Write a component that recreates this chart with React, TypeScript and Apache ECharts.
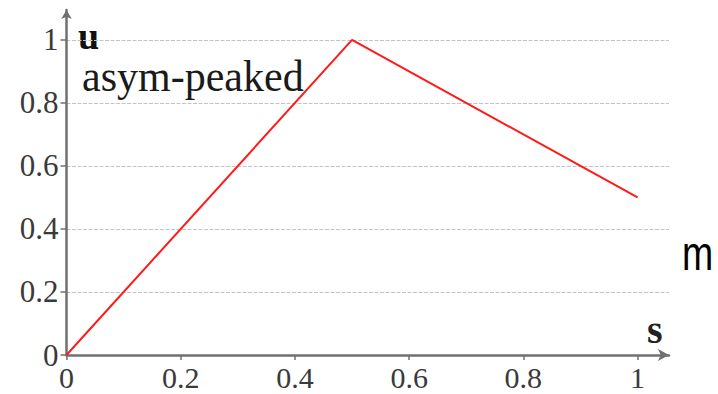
import React, { useEffect, useRef } from "react";
import * as echarts from "echarts";

const sValues = [0, 0.5, 1];
const uValues = [0, 1, 0.5];
const xTicks = [0, 0.2, 0.4, 0.6, 0.8, 1];
const yTicks = [0, 0.2, 0.4, 0.6, 0.8, 1];
const xTitle = "s";
const yTitle = "u";
const curveLabel = "asym-peaked";
const strayLabel = "m";

export default function App() {
  const ref = useRef<HTMLDivElement>(null);
  useEffect(() => {
    document.body.style.margin = "0";
    const chart = echarts.init(ref.current!, null, { renderer: "svg" });
    const serif = "'Liberation Serif', 'Times New Roman', serif";
    const axisColor = "#707070";
    chart.setOption({
      animation: false,
      backgroundColor: "#ffffff",
      grid: { left: 66.5, right: 49, top: 10, bottom: 39 },
      xAxis: {
        type: "value",
        min: 0,
        max: 1.055,
        interval: 0.2,
        axisLine: {
          show: true,
          symbol: ["none", "arrow"],
          symbolSize: [9, 11],
          lineStyle: { color: axisColor, width: 2.5 },
        },
        axisTick: {
          show: true,
          length: 5,
          customValues: xTicks,
          lineStyle: { color: axisColor, width: 1.5 },
        },
        axisLabel: {
          customValues: xTicks,
          margin: 7,
          fontFamily: serif,
          fontSize: 30,
          color: "#3a3a3a",
          formatter: (v: number) => String(Math.round(v * 10) / 10),
        },
        splitLine: { show: false },
      },
      yAxis: {
        type: "value",
        min: 0,
        max: 1.095,
        interval: 0.2,
        axisLine: {
          show: true,
          symbol: ["none", "arrow"],
          symbolSize: [8, 9],
          lineStyle: { color: axisColor, width: 2.5 },
        },
        axisTick: {
          show: true,
          length: 6,
          customValues: yTicks,
          lineStyle: { color: axisColor, width: 1.5 },
        },
        axisLabel: {
          customValues: yTicks,
          margin: 8,
          fontFamily: serif,
          fontSize: 31,
          color: "#3a3a3a",
          formatter: (v: number) => String(Math.round(v * 10) / 10),
        },
        splitLine: {
          show: true,
          showMinLine: false,
          showMaxLine: true,
          lineStyle: { color: "#c4c4c4", width: 1, type: [4, 1.5] },
        },
      },
      series: [
        {
          type: "line",
          data: sValues.map((s, i) => [s, uValues[i]]),
          showSymbol: false,
          symbol: "none",
          lineStyle: { color: "#ff1a1a", width: 2 },
          z: 3,
        },
      ],
      graphic: [
        {
          type: "text",
          x: 78,
          y: 36,
          style: {
            text: yTitle,
            font: `bold 38px ${serif}`,
            fill: "#111",
            verticalAlign: "middle",
            align: "left",
          },
        },
        {
          type: "text",
          x: 82,
          y: 76,
          scaleX: 0.955,
          style: {
            text: curveLabel,
            font: `44px ${serif}`,
            fill: "#1a1a1a",
            verticalAlign: "middle",
            align: "left",
          },
        },
        {
          type: "text",
          x: 647,
          y: 329,
          style: {
            text: xTitle,
            font: `bold 40px ${serif}`,
            fill: "#222",
            verticalAlign: "middle",
            align: "left",
          },
        },
        {
          type: "text",
          x: 682,
          y: 253,
          scaleX: 0.78,
          style: {
            text: strayLabel,
            font: `48px 'Liberation Sans', Arial, sans-serif`,
            fill: "#000",
            verticalAlign: "middle",
            align: "left",
          },
        },
      ],
    });
    return () => chart.dispose();
  }, []);
  return <div ref={ref} style={{ width: 718, height: 394 }} />;
}
